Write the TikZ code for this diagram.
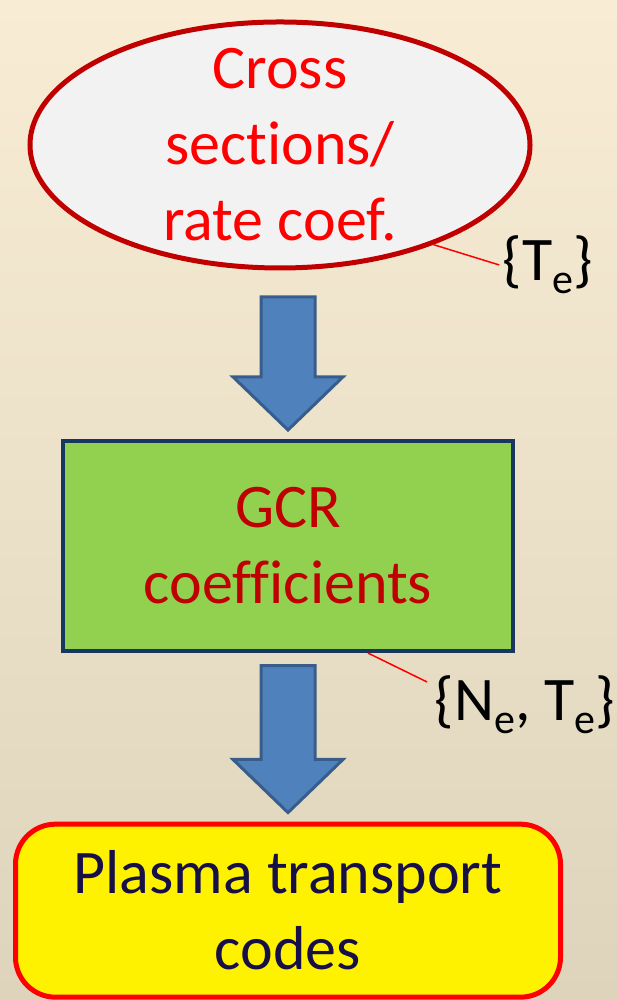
\documentclass[tikz,border=0pt]{standalone}
\usepackage{fontspec}
\setmainfont{Carlito}[Ligatures={NoCommon}]
\usetikzlibrary{shapes,shapes.arrows,positioning,calc}
\definecolor{bgtop}{RGB}{248,237,212}
\definecolor{bgbottom}{RGB}{222,212,188}
\definecolor{csfill}{RGB}{242,242,242}
\definecolor{csline}{RGB}{192,0,0}
\definecolor{arrowblue}{RGB}{79,129,189}
\definecolor{arrowline}{RGB}{56,93,138}
\definecolor{gcrgreen}{RGB}{146,208,80}
\definecolor{gcrline}{RGB}{23,55,94}
\definecolor{codetext}{RGB}{22,16,70}
\newcommand{\lowsub}[1]{\raisebox{-13pt}{\fontsize{42}{42}\selectfont #1}}

\begin{document}
\begin{tikzpicture}[x=1pt,y=1pt,semithick]
\tikzstyle{big} = [font=\fontsize{62}{76}\selectfont, align=center]
\tikzstyle{flowarrow} = [single arrow, shape border rotate=270, draw=arrowline, fill=arrowblue, line width=3pt, inner sep=25.5pt, single arrow head extend=28pt, single arrow tip angle=92]
\tikzstyle{leader} = [red, line width=1.5pt]

% background
\shade[top color=bgtop, bottom color=bgbottom] (0,0) rectangle (617,1000);
\useasboundingbox (0,0) rectangle (617,1000);

\node[big, ellipse, draw=csline, fill=csfill, line width=5pt, text=red, minimum width=500pt, minimum height=246pt, inner xsep=0pt, inner ysep=-30pt] (cs) at (280,855) {Cross\\sections/\\rate coef.};

\node[flowarrow, minimum height=133pt, anchor=tail] (arr1) at ($(cs.south)+(8,-25)$) {};

\node[big, rectangle, draw=gcrline, fill=gcrgreen, line width=4pt, text=csline, minimum width=450pt, minimum height=210pt] (gcr) [below=7pt of arr1.tip] {GCR\\coefficients};

\node[flowarrow, minimum height=147pt] (arr2) [below=11pt of gcr.south, anchor=tail] {};

\node[big, rectangle, rounded corners=40pt, draw=red, fill=yellow, line width=5pt, text=codetext, minimum width=545pt, minimum height=173pt] (ptc) [below=7pt of arr2.tip] {Plasma transport\\codes};

% parameter labels
\node[big] (te) at (548,735) {\{T\lowsub{e}\}};
\node[big] (nete) at (525,295) {\{N\lowsub{e}, T\lowsub{e}\}};

\draw[leader] (cs.-33) -- (te.west);
\draw[leader] ($(gcr.south)+(80,0)$) -- ($(nete.west)+(-4,23)$);
\end{tikzpicture}
\end{document}
